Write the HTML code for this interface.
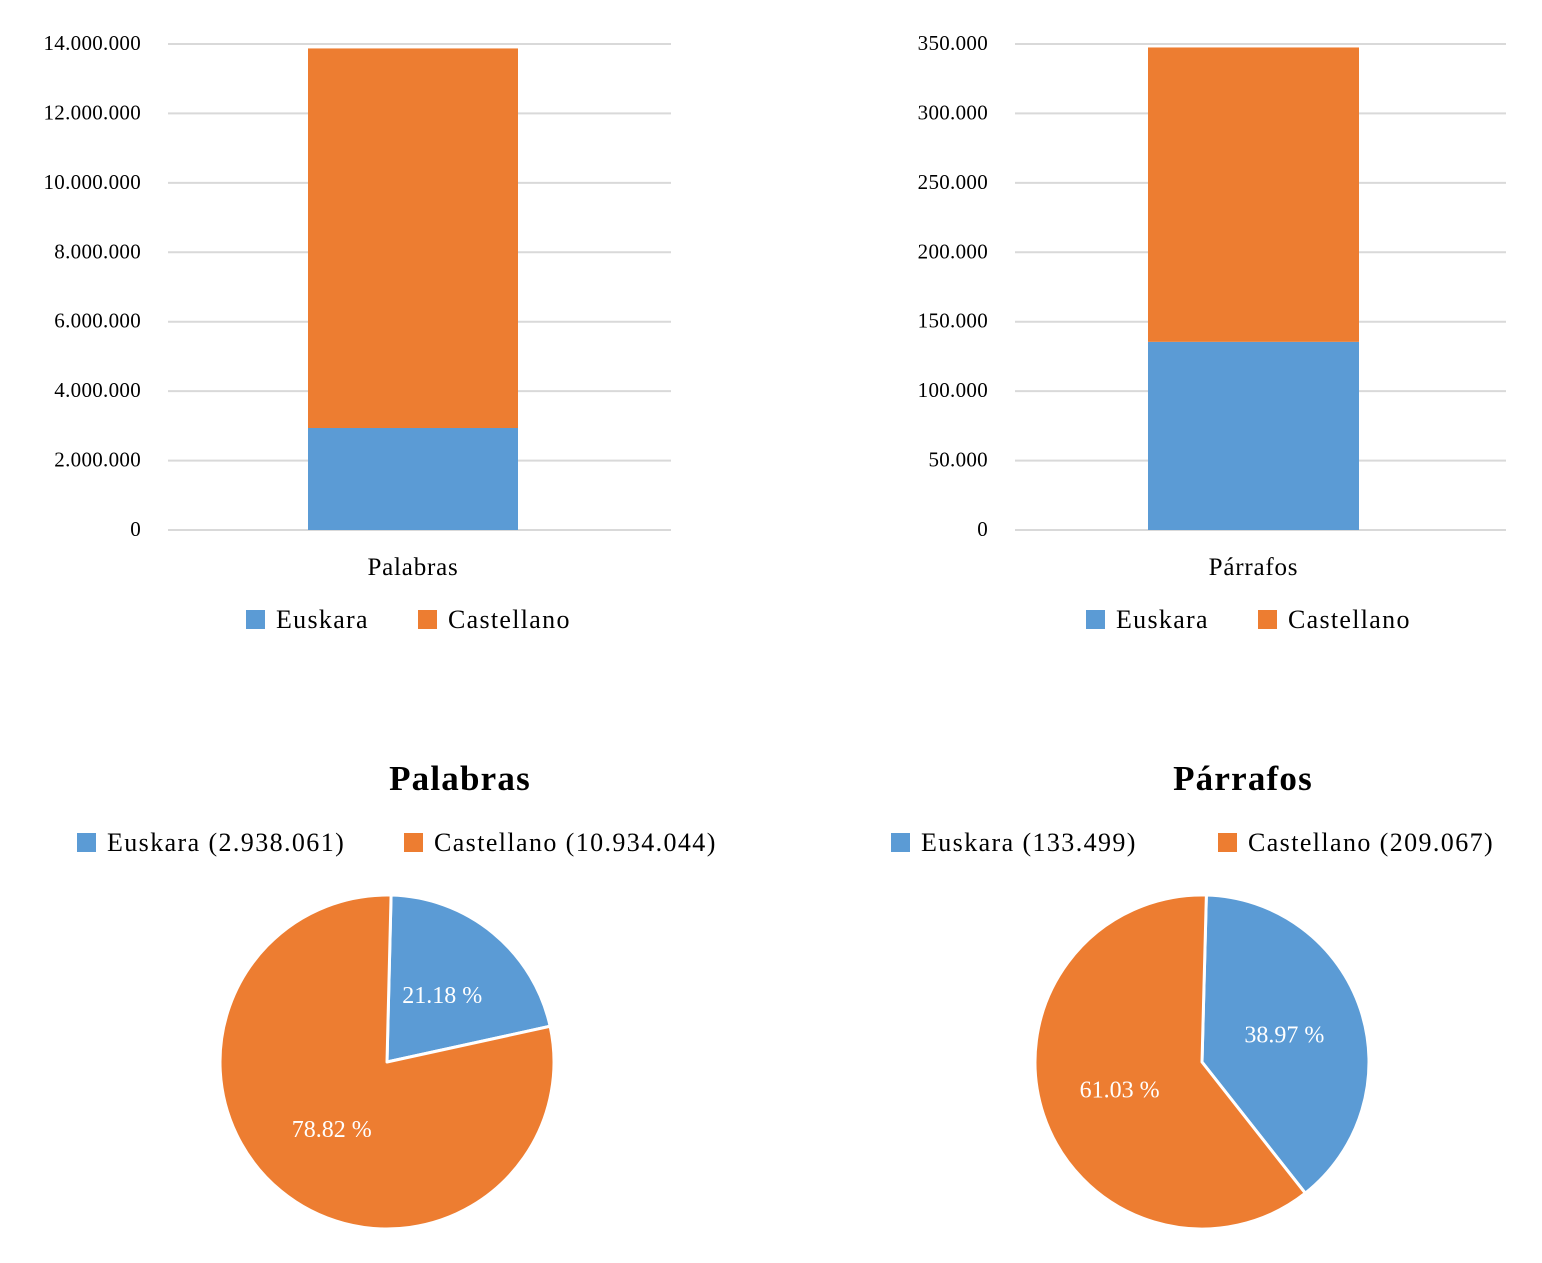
<!DOCTYPE html>
<html><head><meta charset="utf-8"><style>
body{margin:0;background:#fff;}
svg text{font-family:"Liberation Serif",serif;}
</style></head><body>
<svg width="1542" height="1258" viewBox="0 0 1542 1258">
<g id="bar1"></g>
<g id="bar2"></g>
<g id="pie1"></g>
<g id="pie2"></g>
</svg>
<script>
const seriesNames = ["Euskara", "Castellano"];
const colors = ["#5b9bd5", "#ed7d31"];
const barCategories = ["Palabras", "Párrafos"];
const barEuskara = [2938061, 135500];
const barCastellano = [10934044, 212000];
const barMax = [14000000, 350000];
const barTickStep = [2000000, 50000];
const pieTitles = ["Palabras", "Párrafos"];
const pieEuskara = [2938061, 133499];
const pieCastellano = [10934044, 209067];
const NS = "http://www.w3.org/2000/svg";
function mk(tag, attrs, parent, txt){const e=document.createElementNS(NS,tag);for(const k in attrs)e.setAttribute(k,attrs[k]);if(txt!==undefined)e.textContent=txt;parent.appendChild(e);return e;}
function fmt(n){return n.toString().replace(/\B(?=(\d{3})+(?!\d))/g,".");}
const barLayouts=[{g:"bar1",x0:168,x1:671,bx:308,bw:210,lx:246},{g:"bar2",x0:1015,x1:1506,bx:1148,bw:211,lx:1086}];
const yTop=44,yBot=530;
barLayouts.forEach((L,i)=>{
  const g=document.getElementById(L.g);
  const ys=v=>yBot-(v/barMax[i])*(yBot-yTop);
  for(let v=0;v<=barMax[i];v+=barTickStep[i]){
    const gl=mk("line",{x1:L.x0,x2:L.x1,y1:ys(v),y2:ys(v),stroke:"#d9d9d9","stroke-width":2},g);
    
    
    const t=mk("text",{x:L.x0-27,y:ys(v)+6,"text-anchor":"end","font-size":21,fill:"#000","letter-spacing":"0.3"},g,fmt(v));
    
    
  }
  const b1=mk("rect",{x:L.bx,width:L.bw,y:ys(barEuskara[i]),height:yBot-ys(barEuskara[i]),fill:colors[0]},g);
  
  
  const tot=barEuskara[i]+barCastellano[i];
  const b2=mk("rect",{x:L.bx,width:L.bw,y:ys(tot),height:ys(barEuskara[i])-ys(tot),fill:colors[1]},g);
  
  
  const c=mk("text",{x:L.bx+L.bw/2,y:575,"text-anchor":"middle","font-size":25,"letter-spacing":"0.8"},g,barCategories[i]);
  
  
  [0,1].forEach(s=>{
    const x=L.lx+s*172;
    const sq=mk("rect",{x:x,y:610,width:19,height:19,fill:colors[s]},g);
    
    
    const lt=mk("text",{x:x+30,y:628,"font-size":26,"letter-spacing":"1.3"},g,seriesNames[s]);
    
    
  });
});
const pieLayouts=[{g:"pie1",cx:387,cy:1062,tx:460,lx:[77,404],start:1.4},{g:"pie2",cx:1202,cy:1062,tx:1243,lx:[891,1218],start:1.5}];
const R=167;
pieLayouts.forEach((L,i)=>{
  const g=document.getElementById(L.g);
  const t=mk("text",{x:L.tx,y:790,"text-anchor":"middle","font-size":35,"font-weight":"bold","letter-spacing":"1.2"},g,pieTitles[i]);
  
  
  const vals=[pieEuskara[i],pieCastellano[i]];
  [0,1].forEach(s=>{
    const x=L.lx[s];
    const sq=mk("rect",{x:x,y:833,width:19,height:19,fill:colors[s]},g);
    
    
    const lt=mk("text",{x:x+30,y:851,"font-size":26,"letter-spacing":"1.4"},g,seriesNames[s]+" ("+fmt(vals[s])+")");
    
    
  });
  const total=vals[0]+vals[1];
  let a=L.start;
  const pt=(deg,r)=>{const rad=deg*Math.PI/180;return [L.cx+r*Math.sin(rad),L.cy-r*Math.cos(rad)];};
  vals.forEach((v,s)=>{
    const span=v/total*360;
    const p0=pt(a,R),p1=pt(a+span,R);
    const d=`M${L.cx},${L.cy} L${p0[0]},${p0[1]} A${R},${R} 0 ${span>180?1:0} 1 ${p1[0]},${p1[1]} Z`;
    const sl=mk("path",{d:d,fill:colors[s],stroke:"#fff","stroke-width":3,"stroke-linejoin":"round"},g);
    
    
    const lp=pt(a+span/2,R*0.52);
    const lb=mk("text",{x:lp[0],y:lp[1]+8,"text-anchor":"middle","font-size":24,fill:"#fff"},g,(v/total*100).toFixed(2)+" %");
    
    
    a+=span;
  });
});
</script>
</body></html>
